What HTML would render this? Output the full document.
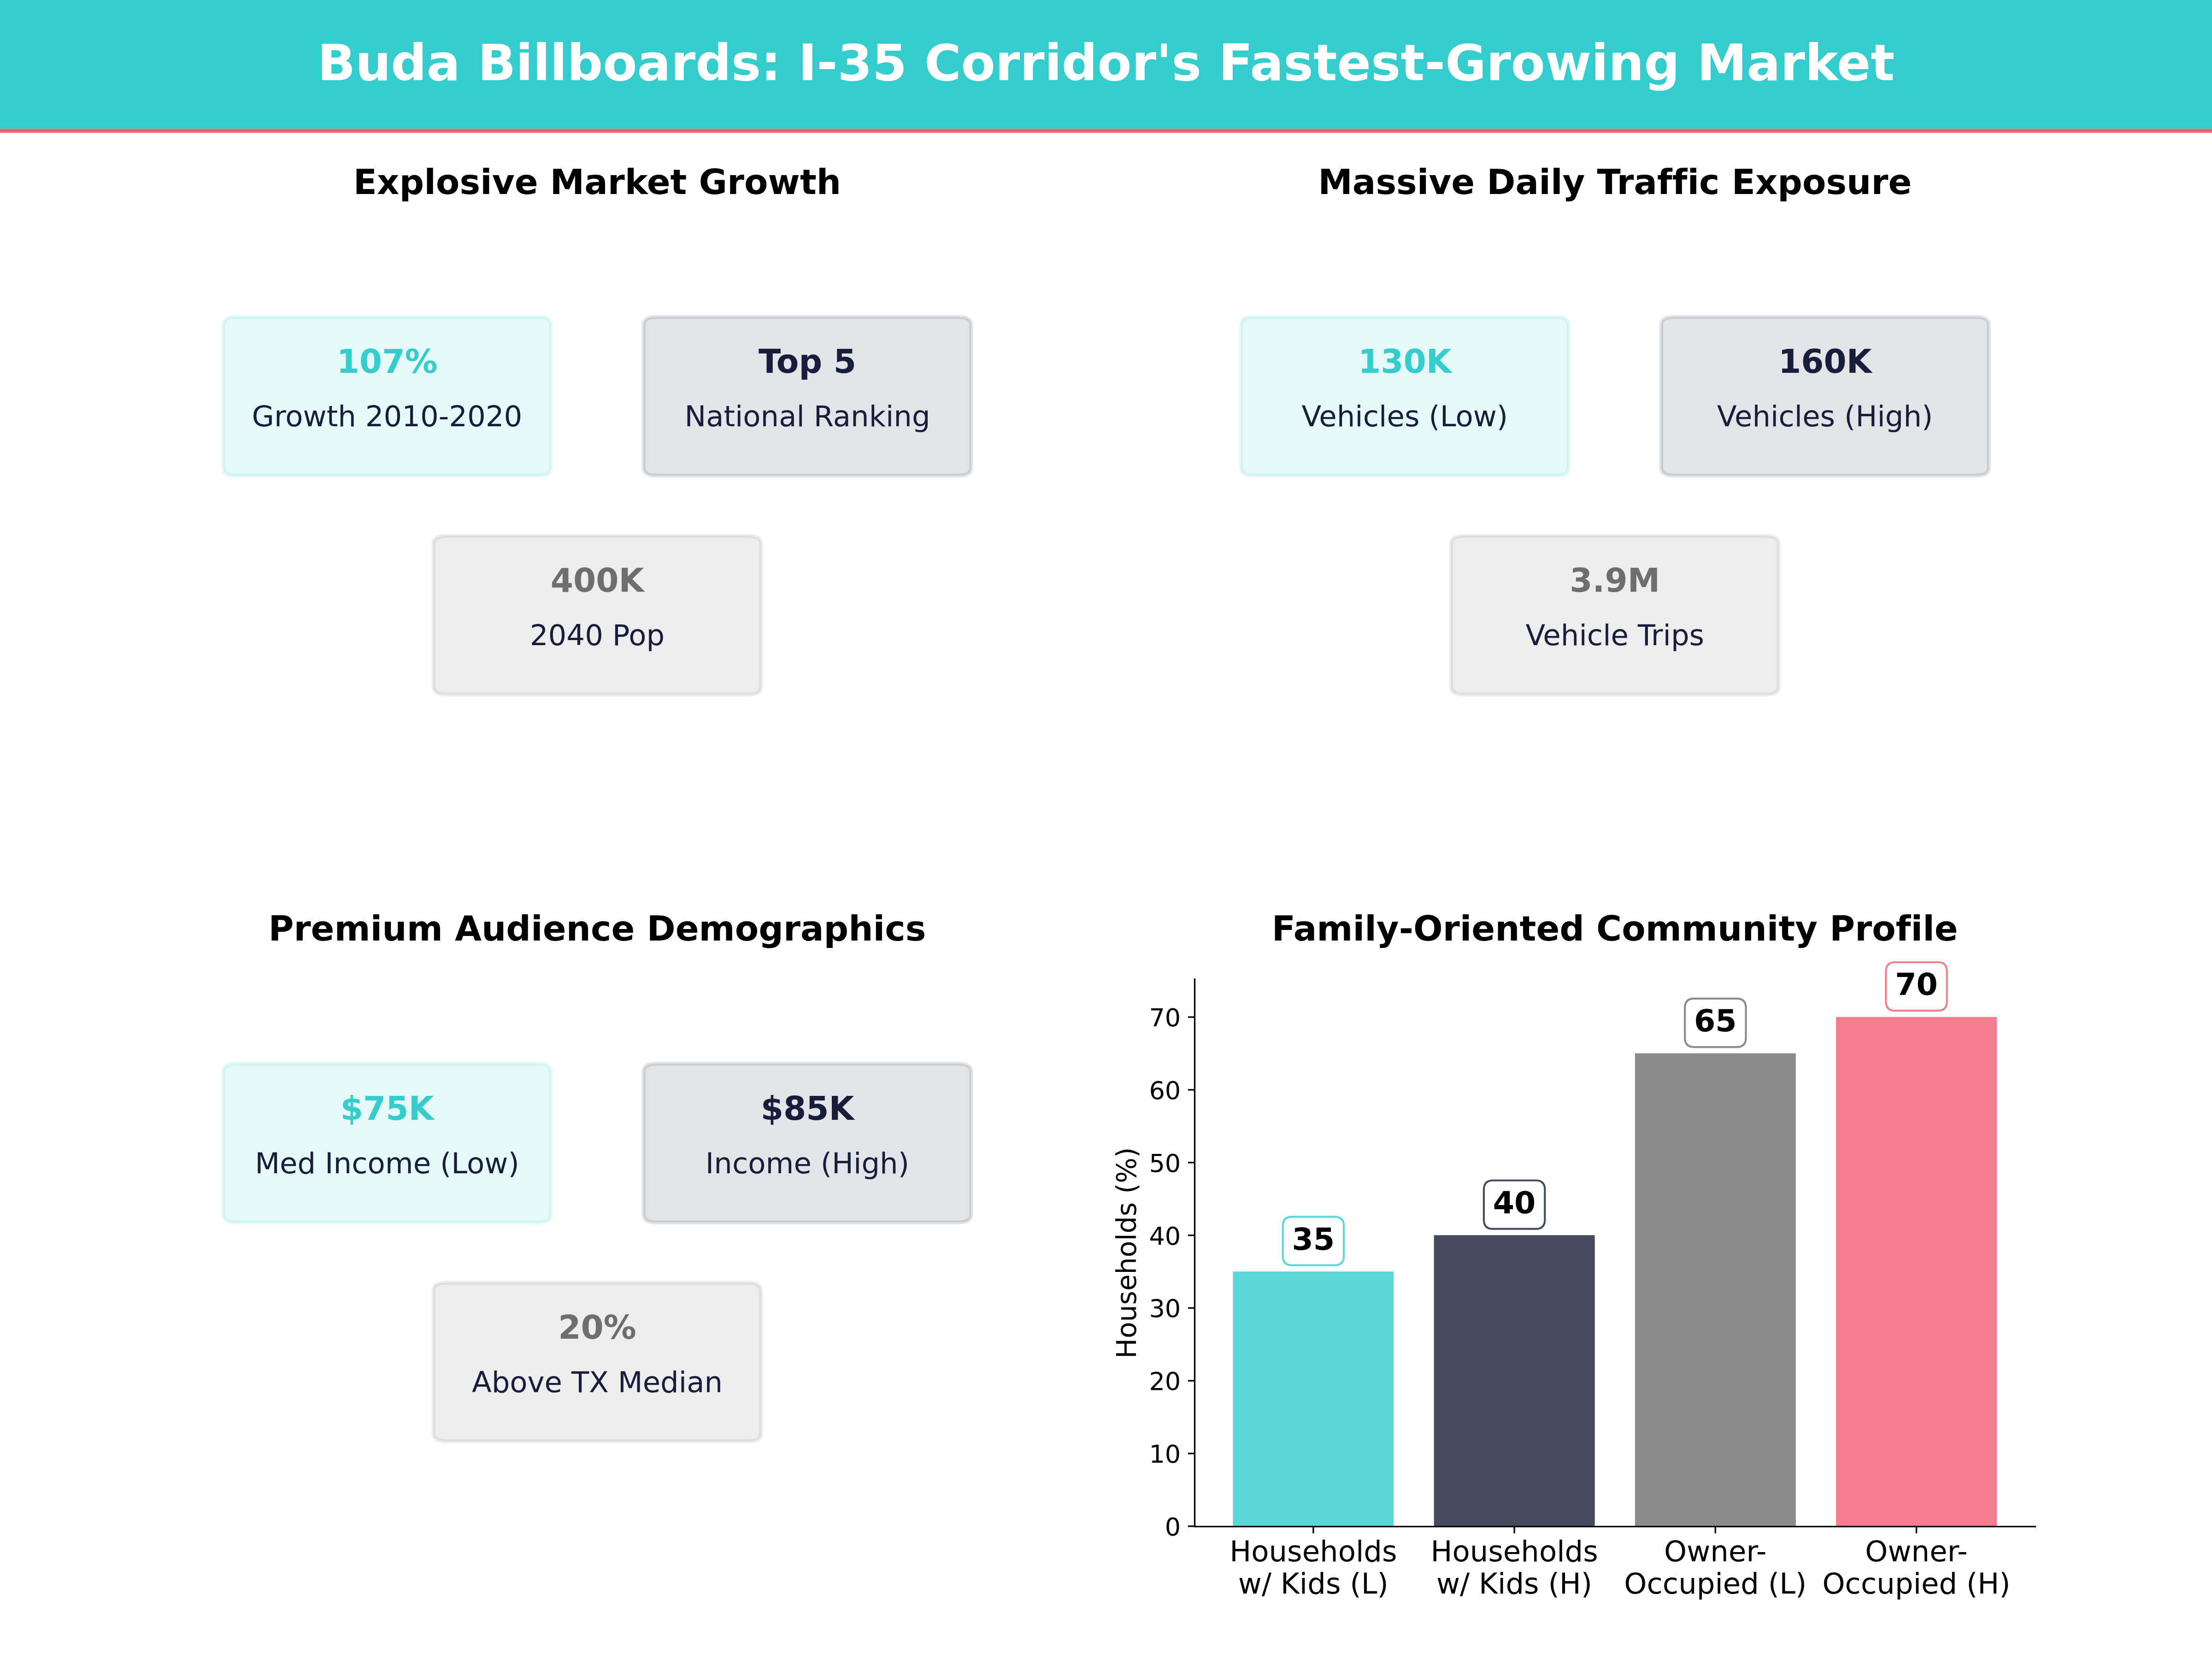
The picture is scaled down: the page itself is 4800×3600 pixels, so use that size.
<!DOCTYPE html>
<html lang="en"><head><meta charset="utf-8"><title>Buda Billboards: I-35 Corridor's Fastest-Growing Market</title>
<style>
html,body{margin:0;padding:0;background:#fff;}
body{width:4800px;height:3600px;overflow:hidden;}
svg{display:block;font-family:"DejaVu Sans","Liberation Sans",sans-serif;}
text{white-space:pre;font-variant-ligatures:none;font-feature-settings:"liga" 0,"clig" 0;}
</style></head><body>
<svg width="4800" height="3600" viewBox="0 0 4800 3600">
<rect x="0" y="0" width="4800" height="279.5" fill="#34cccd"/>
<rect x="0" y="279.5" width="4800" height="8.5" fill="#f15c73"/>
<text x="2400.00" y="173.75" font-size="108.333" font-weight="bold" fill="#fff" text-anchor="middle">Buda Billboards: I-35 Corridor's Fastest-Growing Market</text>
<text x="1296.00" y="421.25" font-size="75.000" font-weight="bold" fill="#000" text-anchor="middle">Explosive Market Growth</text>
<path d="M511.80 687.87H1168.20Q1195.60 687.87 1195.60 705.67V1014.37Q1195.60 1032.17 1168.20 1032.17H511.80Q484.40 1032.17 484.40 1014.37V705.67Q484.40 687.87 511.80 687.87Z" fill="#34cccd" fill-opacity="0.12" stroke="#34cccd" stroke-opacity="0.12" stroke-width="8.333"/>
<text x="840.00" y="809.10" font-size="70.833" font-weight="bold" fill="#34cccd" text-anchor="middle">107%</text>
<text x="840.00" y="925.40" font-size="62.500" font-weight="normal" fill="#171d3b" text-anchor="middle">Growth 2010-2020</text>
<path d="M1423.80 687.87H2080.20Q2107.60 687.87 2107.60 705.67V1014.37Q2107.60 1032.17 2080.20 1032.17H1423.80Q1396.40 1032.17 1396.40 1014.37V705.67Q1396.40 687.87 1423.80 687.87Z" fill="#181d38" fill-opacity="0.12" stroke="#181d38" stroke-opacity="0.12" stroke-width="8.333"/>
<text x="1752.00" y="809.10" font-size="70.833" font-weight="bold" fill="#171d3b" text-anchor="middle">Top 5</text>
<text x="1752.00" y="925.40" font-size="62.500" font-weight="normal" fill="#171d3b" text-anchor="middle">National Ranking</text>
<path d="M967.80 1162.92H1624.20Q1651.60 1162.92 1651.60 1180.72V1489.42Q1651.60 1507.22 1624.20 1507.22H967.80Q940.40 1507.22 940.40 1489.42V1180.72Q940.40 1162.92 967.80 1162.92Z" fill="#6e6e6e" fill-opacity="0.12" stroke="#6e6e6e" stroke-opacity="0.12" stroke-width="8.333"/>
<text x="1296.00" y="1284.15" font-size="70.833" font-weight="bold" fill="#6e6e6e" text-anchor="middle">400K</text>
<text x="1296.00" y="1400.45" font-size="62.500" font-weight="normal" fill="#171d3b" text-anchor="middle">2040 Pop</text>
<text x="3504.30" y="421.25" font-size="75.000" font-weight="bold" fill="#000" text-anchor="middle">Massive Daily Traffic Exposure</text>
<path d="M2720.10 687.87H3376.50Q3403.90 687.87 3403.90 705.67V1014.37Q3403.90 1032.17 3376.50 1032.17H2720.10Q2692.70 1032.17 2692.70 1014.37V705.67Q2692.70 687.87 2720.10 687.87Z" fill="#34cccd" fill-opacity="0.12" stroke="#34cccd" stroke-opacity="0.12" stroke-width="8.333"/>
<text x="3048.30" y="809.10" font-size="70.833" font-weight="bold" fill="#34cccd" text-anchor="middle">130K</text>
<text x="3048.30" y="925.40" font-size="62.500" font-weight="normal" fill="#171d3b" text-anchor="middle">Vehicles (Low)</text>
<path d="M3632.10 687.87H4288.50Q4315.90 687.87 4315.90 705.67V1014.37Q4315.90 1032.17 4288.50 1032.17H3632.10Q3604.70 1032.17 3604.70 1014.37V705.67Q3604.70 687.87 3632.10 687.87Z" fill="#181d38" fill-opacity="0.12" stroke="#181d38" stroke-opacity="0.12" stroke-width="8.333"/>
<text x="3960.30" y="809.10" font-size="70.833" font-weight="bold" fill="#171d3b" text-anchor="middle">160K</text>
<text x="3960.30" y="925.40" font-size="62.500" font-weight="normal" fill="#171d3b" text-anchor="middle">Vehicles (High)</text>
<path d="M3176.10 1162.92H3832.50Q3859.90 1162.92 3859.90 1180.72V1489.42Q3859.90 1507.22 3832.50 1507.22H3176.10Q3148.70 1507.22 3148.70 1489.42V1180.72Q3148.70 1162.92 3176.10 1162.92Z" fill="#6e6e6e" fill-opacity="0.12" stroke="#6e6e6e" stroke-opacity="0.12" stroke-width="8.333"/>
<text x="3504.30" y="1284.15" font-size="70.833" font-weight="bold" fill="#6e6e6e" text-anchor="middle">3.9M</text>
<text x="3504.30" y="1400.45" font-size="62.500" font-weight="normal" fill="#171d3b" text-anchor="middle">Vehicle Trips</text>
<text x="1296.00" y="2040.80" font-size="75.000" font-weight="bold" fill="#000" text-anchor="middle">Premium Audience Demographics</text>
<path d="M511.80 2308.27H1168.20Q1195.60 2308.27 1195.60 2326.07V2634.77Q1195.60 2652.57 1168.20 2652.57H511.80Q484.40 2652.57 484.40 2634.77V2326.07Q484.40 2308.27 511.80 2308.27Z" fill="#34cccd" fill-opacity="0.12" stroke="#34cccd" stroke-opacity="0.12" stroke-width="8.333"/>
<text x="840.00" y="2429.50" font-size="70.833" font-weight="bold" fill="#34cccd" text-anchor="middle">$75K</text>
<text x="840.00" y="2545.80" font-size="62.500" font-weight="normal" fill="#171d3b" text-anchor="middle">Med Income (Low)</text>
<path d="M1423.80 2308.27H2080.20Q2107.60 2308.27 2107.60 2326.07V2634.77Q2107.60 2652.57 2080.20 2652.57H1423.80Q1396.40 2652.57 1396.40 2634.77V2326.07Q1396.40 2308.27 1423.80 2308.27Z" fill="#181d38" fill-opacity="0.12" stroke="#181d38" stroke-opacity="0.12" stroke-width="8.333"/>
<text x="1752.00" y="2429.50" font-size="70.833" font-weight="bold" fill="#171d3b" text-anchor="middle">$85K</text>
<text x="1752.00" y="2545.80" font-size="62.500" font-weight="normal" fill="#171d3b" text-anchor="middle">Income (High)</text>
<path d="M967.80 2783.32H1624.20Q1651.60 2783.32 1651.60 2801.12V3109.82Q1651.60 3127.62 1624.20 3127.62H967.80Q940.40 3127.62 940.40 3109.82V2801.12Q940.40 2783.32 967.80 2783.32Z" fill="#6e6e6e" fill-opacity="0.12" stroke="#6e6e6e" stroke-opacity="0.12" stroke-width="8.333"/>
<text x="1296.00" y="2904.55" font-size="70.833" font-weight="bold" fill="#6e6e6e" text-anchor="middle">20%</text>
<text x="1296.00" y="3020.85" font-size="62.500" font-weight="normal" fill="#171d3b" text-anchor="middle">Above TX Median</text>
<text x="3504.30" y="2040.80" font-size="75.000" font-weight="bold" fill="#000" text-anchor="middle">Family-Oriented Community Profile</text>
<rect x="2675.39" y="2759.19" width="348.99" height="553.40" fill="#34cccd" fill-opacity="0.8"/>
<rect x="3111.63" y="2680.28" width="348.99" height="632.32" fill="#181d38" fill-opacity="0.8"/>
<rect x="3547.87" y="2285.70" width="348.99" height="1026.89" fill="#6e6e6e" fill-opacity="0.8"/>
<rect x="3984.11" y="2206.79" width="348.99" height="1105.81" fill="#f15c73" fill-opacity="0.8"/>
<path d="M2592.50 2124.80V3312.70H4416.40" fill="none" stroke="#000" stroke-width="3.333" stroke-linecap="square" stroke-linejoin="miter"/>
<path d="M2592.50 3311.90h-14.58" stroke="#000" stroke-width="3.333"/>
<text x="2562.33" y="3331.90" font-size="54.167" font-weight="normal" fill="#000" text-anchor="end">0</text>
<path d="M2592.50 3154.07h-14.58" stroke="#000" stroke-width="3.333"/>
<text x="2562.33" y="3174.07" font-size="54.167" font-weight="normal" fill="#000" text-anchor="end">10</text>
<path d="M2592.50 2996.24h-14.58" stroke="#000" stroke-width="3.333"/>
<text x="2562.33" y="3016.24" font-size="54.167" font-weight="normal" fill="#000" text-anchor="end">20</text>
<path d="M2592.50 2838.41h-14.58" stroke="#000" stroke-width="3.333"/>
<text x="2562.33" y="2858.41" font-size="54.167" font-weight="normal" fill="#000" text-anchor="end">30</text>
<path d="M2592.50 2680.58h-14.58" stroke="#000" stroke-width="3.333"/>
<text x="2562.33" y="2700.58" font-size="54.167" font-weight="normal" fill="#000" text-anchor="end">40</text>
<path d="M2592.50 2522.75h-14.58" stroke="#000" stroke-width="3.333"/>
<text x="2562.33" y="2542.75" font-size="54.167" font-weight="normal" fill="#000" text-anchor="end">50</text>
<path d="M2592.50 2364.92h-14.58" stroke="#000" stroke-width="3.333"/>
<text x="2562.33" y="2384.92" font-size="54.167" font-weight="normal" fill="#000" text-anchor="end">60</text>
<path d="M2592.50 2207.09h-14.58" stroke="#000" stroke-width="3.333"/>
<text x="2562.33" y="2227.09" font-size="54.167" font-weight="normal" fill="#000" text-anchor="end">70</text>
<path d="M2849.88 3312.70v14.58" stroke="#000" stroke-width="3.333"/>
<text x="2849.88" y="3387.80" font-size="62.500" font-weight="normal" fill="#000" text-anchor="middle">Households</text>
<text x="2849.88" y="3457.80" font-size="62.500" font-weight="normal" fill="#000" text-anchor="middle">w/ Kids (L)</text>
<path d="M2803.68 2640.44H2896.08Q2916.08 2640.44 2916.08 2660.44V2725.54Q2916.08 2745.54 2896.08 2745.54H2803.68Q2783.68 2745.54 2783.68 2725.54V2660.44Q2783.68 2640.44 2803.68 2640.44Z" fill="#fff" stroke="#34cccd" stroke-opacity="0.8" stroke-width="4.167"/>
<text x="2849.88" y="2711.69" font-size="66.667" font-weight="bold" fill="#000" text-anchor="middle">35</text>
<path d="M3286.12 3312.70v14.58" stroke="#000" stroke-width="3.333"/>
<text x="3286.12" y="3387.80" font-size="62.500" font-weight="normal" fill="#000" text-anchor="middle">Households</text>
<text x="3286.12" y="3457.80" font-size="62.500" font-weight="normal" fill="#000" text-anchor="middle">w/ Kids (H)</text>
<path d="M3239.92 2561.53H3332.32Q3352.32 2561.53 3352.32 2581.53V2646.63Q3352.32 2666.63 3332.32 2666.63H3239.92Q3219.92 2666.63 3219.92 2646.63V2581.53Q3219.92 2561.53 3239.92 2561.53Z" fill="#fff" stroke="#181d38" stroke-opacity="0.8" stroke-width="4.167"/>
<text x="3286.12" y="2632.78" font-size="66.667" font-weight="bold" fill="#000" text-anchor="middle">40</text>
<path d="M3722.36 3312.70v14.58" stroke="#000" stroke-width="3.333"/>
<text x="3722.36" y="3387.80" font-size="62.500" font-weight="normal" fill="#000" text-anchor="middle">Owner-</text>
<text x="3722.36" y="3457.80" font-size="62.500" font-weight="normal" fill="#000" text-anchor="middle">Occupied (L)</text>
<path d="M3676.16 2166.95H3768.56Q3788.56 2166.95 3788.56 2186.95V2252.05Q3788.56 2272.05 3768.56 2272.05H3676.16Q3656.16 2272.05 3656.16 2252.05V2186.95Q3656.16 2166.95 3676.16 2166.95Z" fill="#fff" stroke="#6e6e6e" stroke-opacity="0.8" stroke-width="4.167"/>
<text x="3722.36" y="2238.20" font-size="66.667" font-weight="bold" fill="#000" text-anchor="middle">65</text>
<path d="M4158.60 3312.70v14.58" stroke="#000" stroke-width="3.333"/>
<text x="4158.60" y="3387.80" font-size="62.500" font-weight="normal" fill="#000" text-anchor="middle">Owner-</text>
<text x="4158.60" y="3457.80" font-size="62.500" font-weight="normal" fill="#000" text-anchor="middle">Occupied (H)</text>
<path d="M4112.40 2088.04H4204.80Q4224.80 2088.04 4224.80 2108.04V2173.14Q4224.80 2193.14 4204.80 2193.14H4112.40Q4092.40 2193.14 4092.40 2173.14V2108.04Q4092.40 2088.04 4112.40 2088.04Z" fill="#fff" stroke="#f15c73" stroke-opacity="0.8" stroke-width="4.167"/>
<text x="4158.60" y="2159.29" font-size="66.667" font-weight="bold" fill="#000" text-anchor="middle">70</text>
<text transform="translate(2465,2718.70) rotate(-90)" font-size="58.333" text-anchor="middle" fill="#000">Households (%)</text>
</svg>
</body></html>
